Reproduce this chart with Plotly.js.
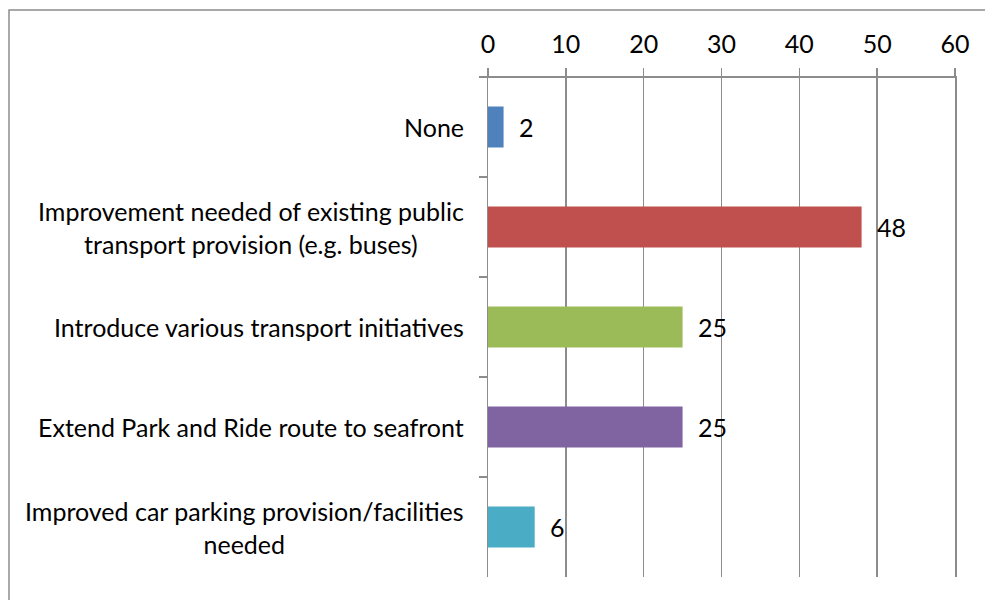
<!DOCTYPE html>
<html>
<head>
<meta charset="utf-8">
<script src="https://cdn.plot.ly/plotly-3.0.1.min.js"></script>
<style>html,body{margin:0;padding:0;background:#fff;}#chart{width:985px;height:600px;}</style>
</head>
<body>
<div id="chart"></div>
<script>
const categories = [
  "None",
  "Improvement needed of existing public<br>transport provision (e.g. buses)",
  "Introduce various transport initiatives",
  "Extend Park and Ride route to seafront",
  "Improved car parking provision/facilities<br>needed"
];
const values = [2, 48, 25, 25, 6];
const colors = ["#4F81BD", "#C0504D", "#9BBB59", "#8064A2", "#4BACC6"];
const tickValues = [0, 10, 20, 30, 40, 50, 60];

const FONT = "Lato, 'Open Sans', sans-serif";
const FS = 25;
const gridColor = "#8c8c8c";

const trace = {
  type: "bar",
  orientation: "h",
  x: values,
  y: categories,
  marker: {color: colors},
  hoverinfo: "none"
};

const annotations = [];
categories.forEach((c, i) => {
  annotations.push({
    x: 0, y: c, xref: "x", yref: "y",
    text: c, showarrow: false,
    xanchor: "right", yanchor: "middle", align: "center",
    xshift: -22,
    font: {family: FONT, size: FS, color: "#000"}
  });
  annotations.push({
    x: values[i], y: c, xref: "x", yref: "y",
    text: String(values[i]), showarrow: false,
    xanchor: "left", yanchor: "middle",
    xshift: 13,
    font: {family: FONT, size: FS, color: "#000"}
  });
});

const layout = {
  width: 985, height: 600,
  margin: {l: 488, r: 30, t: 77, b: 23},
  paper_bgcolor: "#fff", plot_bgcolor: "#fff",
  showlegend: false,
  bargap: 0.59,
  font: {family: FONT, size: FS, color: "#000"},
  xaxis: {
    side: "top", anchor: "y", range: [0, 60],
    tickvals: tickValues, ticktext: tickValues.map(String),
    ticks: "outside", ticklen: 8, tickwidth: 1.5, tickcolor: gridColor,
    showline: true, linecolor: gridColor, linewidth: 1.5,
    showgrid: true, gridcolor: gridColor, gridwidth: 1.5,
    zeroline: false,
    ticklabelstandoff: 5,
    tickfont: {family: FONT, size: FS, color: "#000"},
    fixedrange: true
  },
  yaxis: {
    type: "category", autorange: "reversed",
    showticklabels: false,
    ticks: "outside", tickson: "boundaries", ticklen: 8, tickwidth: 1.5, tickcolor: gridColor,
    showline: true, mirror: true, linecolor: gridColor, linewidth: 1.5,
    showgrid: false, zeroline: false,
    fixedrange: true
  },
  annotations: annotations,
  shapes: [{
    type: "rect", xref: "paper", yref: "paper",
    x0: -1.0257, x1: 1.2, y0: -0.2, y1: 1.134,
    line: {color: "#8c8c8c", width: 1.5}, fillcolor: "rgba(0,0,0,0)",
    layer: "below"
  }, {
    type: "line", xref: "paper", yref: "paper",
    x0: -0.017, x1: 1, y0: 1, y1: 1,
    line: {color: gridColor, width: 2}
  }]
};

Plotly.newPlot("chart", [trace], layout, {displayModeBar: false, staticPlot: true});
</script>
</body>
</html>
